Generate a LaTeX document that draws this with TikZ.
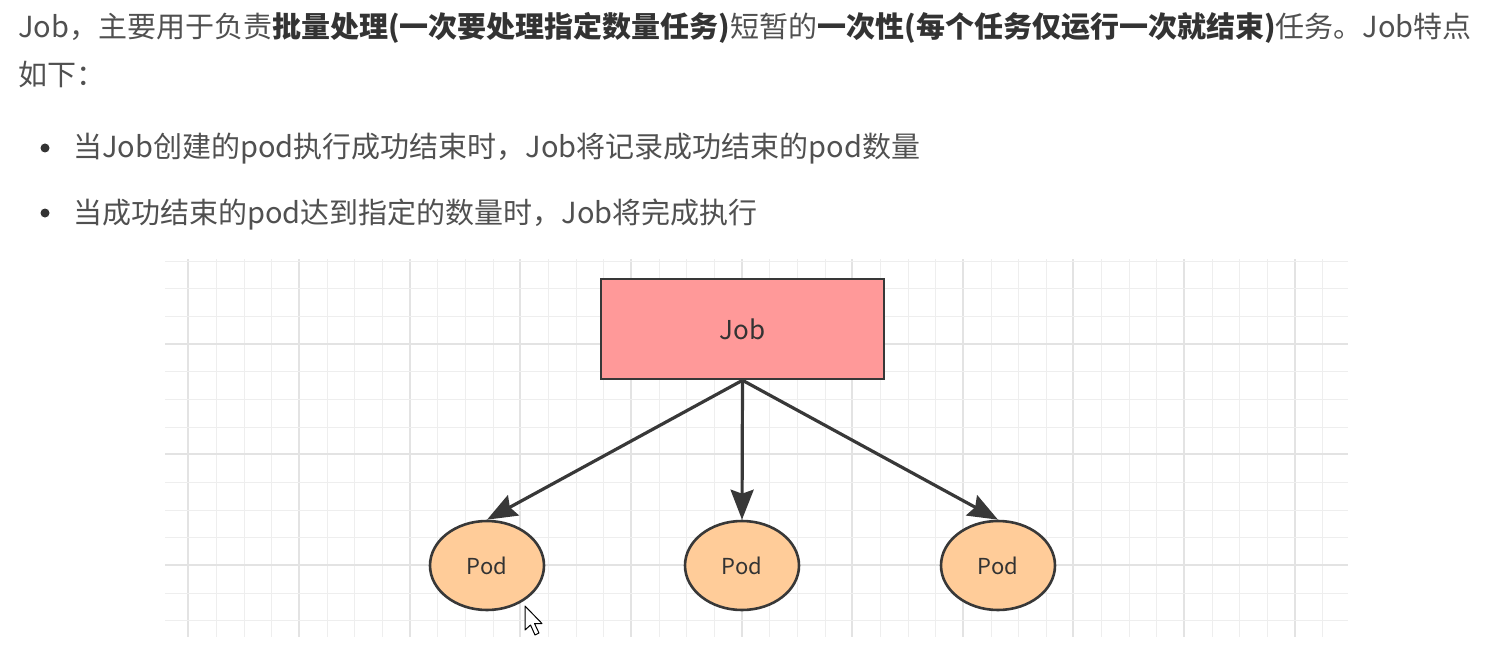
\documentclass[tikz,border=0pt]{standalone}
\usepackage{fontspec}
\setmainfont{Noto Sans CJK SC}
\usepackage{tikz}
\usetikzlibrary{shapes.geometric, arrows.meta}
\definecolor{textgray}{HTML}{505050}
\definecolor{boldgray}{HTML}{333333}
\definecolor{jobred}{HTML}{FF9999}
\definecolor{podorange}{HTML}{FFCC99}
\definecolor{linegray}{HTML}{383838}
\definecolor{gridminor}{HTML}{EEEEEE}
\definecolor{gridmajor}{HTML}{E3E3E3}

\begin{document}
\begin{tikzpicture}[x=1pt,y=-1pt] % 1pt 对应参考图 1px
        \useasboundingbox (0,0) rectangle (1492,650);
        \tikzset{
            txt/.style={anchor=base west, inner sep=0, text=textgray,
                        font=\fontsize{29}{29}\selectfont},
            jobbox/.style={draw=linegray, line width=2.6pt, fill=jobred,
                           minimum width=283pt, minimum height=100pt,
                           font=\fontsize{26}{26}\selectfont, text=boldgray},
            podnode/.style={ellipse, draw=linegray, line width=2.6pt, fill=podorange,
                            minimum width=114pt, minimum height=89pt, inner sep=0,
                            font=\fontsize{22}{22}\selectfont, text=boldgray},
            arr/.style={draw=linegray, line width=3.2pt,
                        -{Stealth[length=30pt, width=23pt, inset=4pt]}}
        }
        \def\strong#1{{\bfseries\color{boldgray}#1}}
        % 说明文字
        \node[txt] (line1) at (18,38) {Job，主要用于负责\strong{批量处理(一次要处理指定数量任务)}短暂的\strong{一次性(每个任务仅运行一次就结束)}任务。Job特点};
        \node[txt] (line2) at (18,86) {如下：};
        \foreach \y/\t [count=\i] in {
            158/当Job创建的pod执行成功结束时，Job将记录成功结束的pod数量,
            223/当成功结束的pod达到指定的数量时，Job将完成执行
        } {
            \fill[boldgray] (45,\y-10) circle (4.5);
            \node[txt] (item\i) at (73,\y) {\t};
        }
        % 背景网格(细线每格, 粗线每四格)
        \begin{scope}
            \clip (165,259) rectangle (1348,637);
            \foreach \k in {-5,...,38} {
                \pgfmathtruncatemacro\gx{round(299+27.66*\k)}
                \pgfmathtruncatemacro\gm{mod(\k+20,4)==0 ? 1 : 0}
                \ifnum\gm=1
                    \draw[gridmajor, line width=1.2pt] (\gx,259) -- (\gx,637);
                \else
                    \draw[gridminor, line width=1pt] (\gx,259) -- (\gx,637);
                \fi
            }
            \foreach \k in {-4,...,11} {
                \pgfmathtruncatemacro\gy{round(343.7+27.66*\k)}
                \pgfmathtruncatemacro\gm{mod(\k+20,4)==0 ? 1 : 0}
                \ifnum\gm=1
                    \draw[gridmajor, line width=1.2pt] (165,\gy) -- (1348,\gy);
                \else
                    \draw[gridminor, line width=1pt] (165,\gy) -- (1348,\gy);
                \fi
            }
        \end{scope}
        % Job 与 Pod
        \node[jobbox] (job) at (742.5,329) {Job};
        \foreach \x [count=\i] in {487,742,998} {
            \node[podnode] (pod\i) at (\x,565.5) {Pod};
        }
        \foreach \i in {1,2,3} {
            \draw[arr] (job.south) -- (pod\i.north);
        }
        % 鼠标指针
        \draw[black, fill=white, line width=1pt, line join=round]
            (525,606) -- (525,630) -- (530.5,625) -- (535,635) -- (539,633) -- (534.5,623.5) -- (542,623.5) -- cycle;
    \end{tikzpicture}
\end{document}
